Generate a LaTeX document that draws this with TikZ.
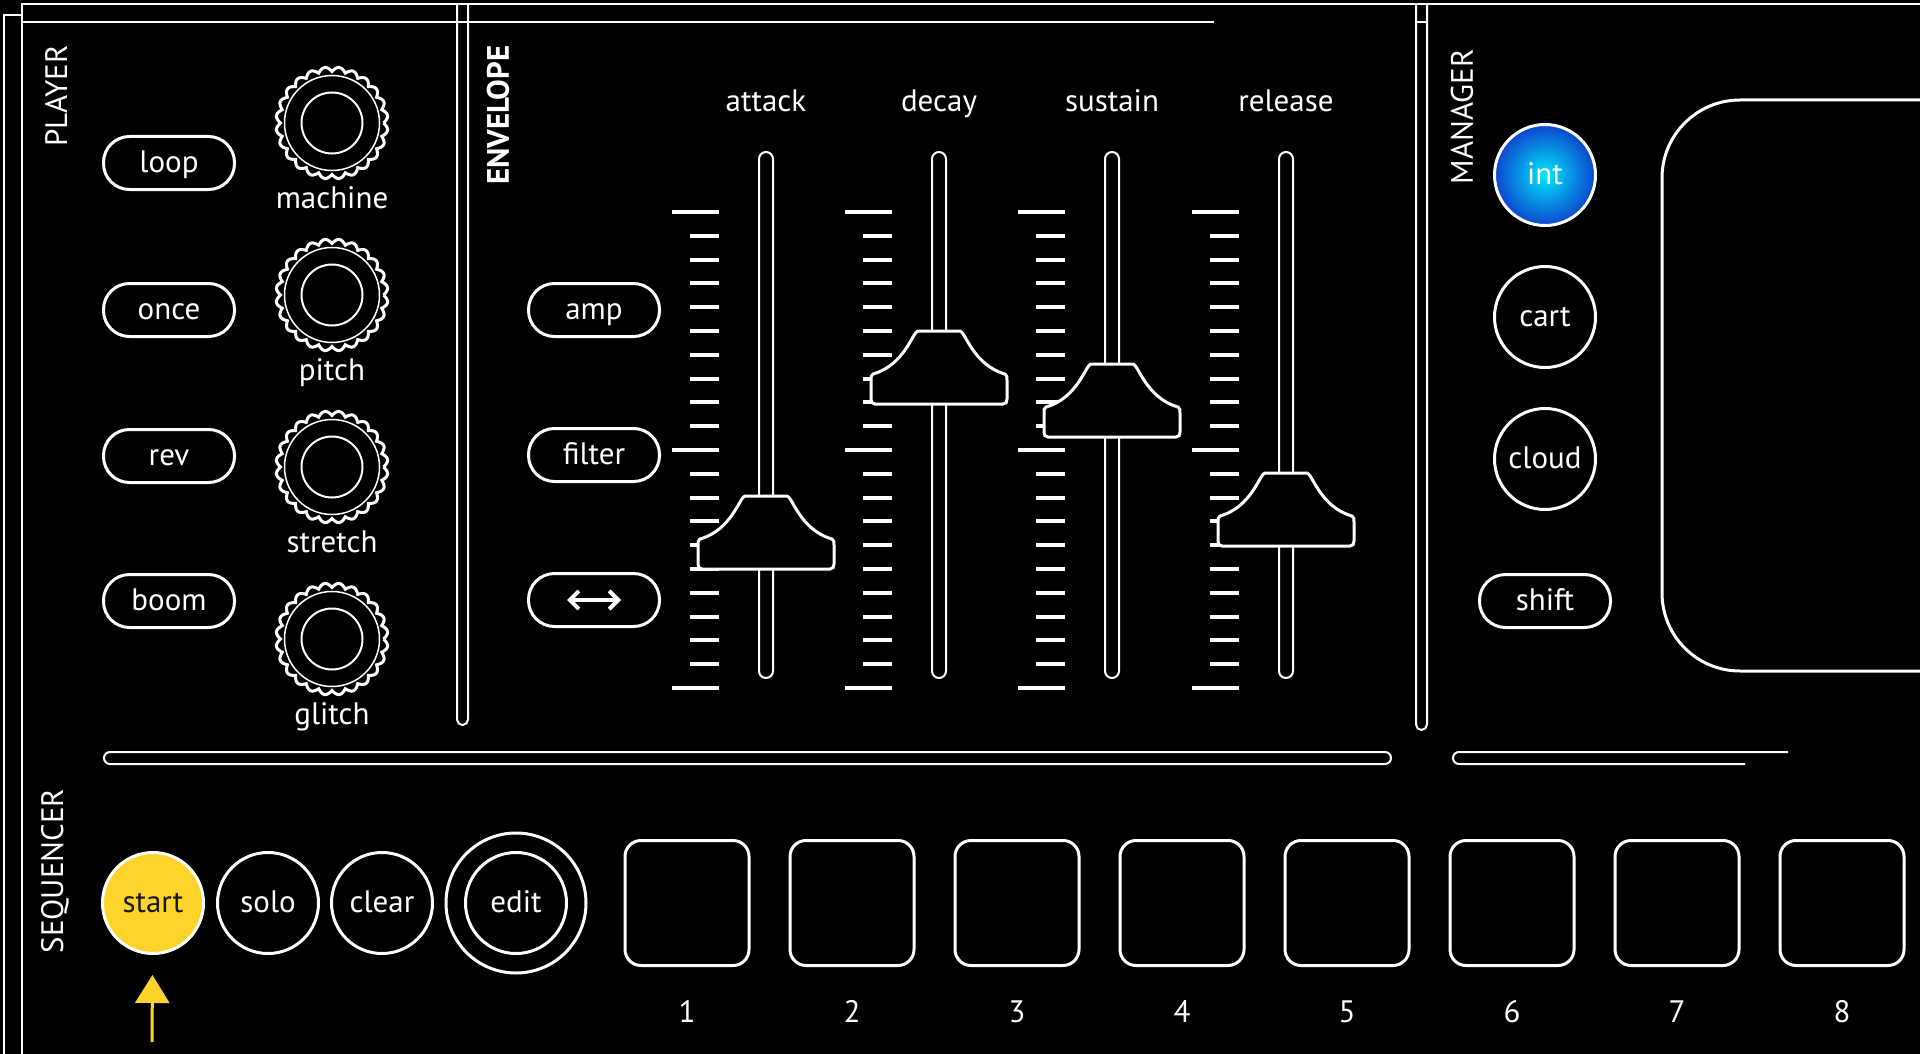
\documentclass[tikz,border=0pt]{standalone}
\usepackage{fontspec}
\setmainfont{PT Sans}
\usepackage{tikz}
\usetikzlibrary{shapes,arrows.meta,positioning}
\definecolor{startyellow}{RGB}{254,212,42}
\definecolor{intcyan}{RGB}{0,232,252}
\definecolor{intblue}{RGB}{12,70,205}
\tikzstyle{rim} = [draw=white, line width=2pt]
\tikzstyle{txt} = [text=white, font=\fontsize{31}{37}\selectfont, inner sep=0pt]
\tikzstyle{title} = [txt, rotate=90]
\tikzstyle{pill} = [txt, draw=white, line width=3pt, rounded corners=26pt, minimum width=131pt, minimum height=53pt, text height=24pt, text depth=5pt]
\tikzstyle{rbtn} = [txt, circle, draw=white, line width=3pt, minimum size=101pt, text height=24pt, text depth=5pt]
\tikzstyle{knob} = [circle, draw=white, line width=2pt, minimum size=61pt, inner sep=0pt]
\tikzstyle{track} = [draw=white, line width=2pt, rounded corners=7pt, minimum width=14pt, minimum height=526pt, inner sep=0pt]
\tikzstyle{tick} = [draw=white, line width=4pt]
\tikzstyle{slidercap} = [draw=white, fill=black, line width=3pt]
\tikzstyle{pad} = [draw=white, line width=3pt, rounded corners=16pt, minimum width=124pt, minimum height=125pt]
\tikzstyle{line} = [draw]
\begin{document}
\begin{tikzpicture}[x=1pt, y=-1pt]
			\useasboundingbox (0,0) rectangle (1920,1054);
			\fill[black] (0,0) rectangle (1920,1054);

			% frame and dividers
			\draw[rim] (4,1054) -- (4,15) -- (22,15);
			\draw[rim] (22,1054) -- (22,4) -- (1920,4);
			\draw[rim] (22,22) -- (1214,22);
			\draw[rim, rounded corners=5.5pt] (457,4) -- (457,725) -- (468,725) -- (468,4);
			\draw[rim, rounded corners=5.5pt] (1416,4) -- (1416,730) -- (1427,730) -- (1427,4);
			\draw[rim] (1416,22) -- (1427,22);
			\draw[rim, rounded corners=6pt] (104,752) rectangle (1391,764);
			\draw[rim, rounded corners=6pt] (1788,752) -- (1453,752) -- (1453,764) -- (1745,764);

			\node[title] (player) at (56,96) {PLAYER};
			\node[title, font=\bfseries\fontsize{31}{37}\selectfont] (envelope) at (498,115) {ENVELOPE};
			\node[title] (manager) at (1462,117) {MANAGER};
			\node[title] (sequencer) at (55,871) {SEQUENCER};

			% player
			\node[pill] (loop) at (169,163) {loop};
			\node[pill] (once) at (169,310) {once};
			\node[pill] (rev) at (169,456) {rev};
			\node[pill] (boom) at (169,601) {boom};
			\foreach \ky/\name in {123/machine, 295/pitch, 467/stretch, 639/glitch} {
				\node[knob] (\name-knob) at (332,\ky) {};
				\draw[white, line width=1.5pt] (\name-knob.center) circle (47.5pt);
				\draw[white, line width=3pt, shift={(332,\ky)}] plot[domain=0:360, samples=289] (\x:{51.5+4.5*abs(sin(12*\x))});
				\node[txt, anchor=base] (\name) at (332,{\ky+85}) {\name};
			}

			% envelope
			\node[pill] (amp) at (594,310) {amp};
			\node[pill] (filter) at (594,455) {filter};
			\node[pill] (swap) at (594,600) {};
			\draw[white, line width=4pt, {Straight Barb[length=9pt,width=18pt]}-{Straight Barb[length=9pt,width=18pt]}] ([xshift=-27pt]swap.center) -- ([xshift=27pt]swap.center);
			\foreach \cx/\ty/\name in {766/496/attack, 939/331/decay, 1112/364/sustain, 1286/473/release} {
				\node[txt, anchor=base] (\name) at (\cx,112) {\name};
				\node[track] (\name-track) at (\cx,415) {};
				\foreach \i in {0,...,20}
					\draw[tick] ({\cx-76},{212+23.8*\i}) -- ({\cx-47},{212+23.8*\i});
				\foreach \i in {0,10,20}
					\draw[tick] ({\cx-94},{212+23.8*\i}) -- ({\cx-47},{212+23.8*\i});
				\path[slidercap, shift={(\cx,\ty)}] (-21,0) -- (21,0) .. controls (26,0) and (34,34) .. (66,43)
					.. controls (68,44) and (68,46) .. (68,49) -- (68,68) .. controls (68,71) and (67,73) .. (64,73)
					-- (-64,73) .. controls (-67,73) and (-68,71) .. (-68,68) -- (-68,49)
					.. controls (-68,46) and (-68,44) .. (-66,43) .. controls (-34,34) and (-26,0) .. (-21,0) -- cycle;
			}

			% manager
			\node[rbtn, shading=radial, inner color=intcyan, outer color=intblue] (int) at (1545,175) {int};
			\node[rbtn] (cart) at (1545,317) {cart};
			\node[rbtn] (cloud) at (1545,459) {cloud};
			\node[pill] (shift) at (1545,601) {shift};
			\draw[white, line width=3pt, rounded corners=78pt] (1935,100) -- (1662,100) -- (1662,671) -- (1935,671);

			% sequencer
			\node[rbtn, fill=startyellow, text=black!90] (start) at (153,903) {start};
			\node[rbtn] (solo) at (268,903) {solo};
			\node[rbtn] (clear) at (382,903) {clear};
			\node[rbtn] (edit) at (516,903) {edit};
			\draw[white, line width=3pt] (edit.center) circle (70pt);
			\foreach \n in {1,...,8} {
				\node[pad] (pad\n) at ({687+165*(\n-1)},903) {};
				\node[txt, anchor=base] (num\n) at ({687+165*(\n-1)},1022) {\n};
			}
			\coordinate (arrowfoot) at (152,1042);
			\path [line, draw=startyellow, line width=3pt, shorten >=20pt, -{Triangle[length=28pt,width=34pt]}] (arrowfoot) -- (start);
		\end{tikzpicture}
\end{document}
